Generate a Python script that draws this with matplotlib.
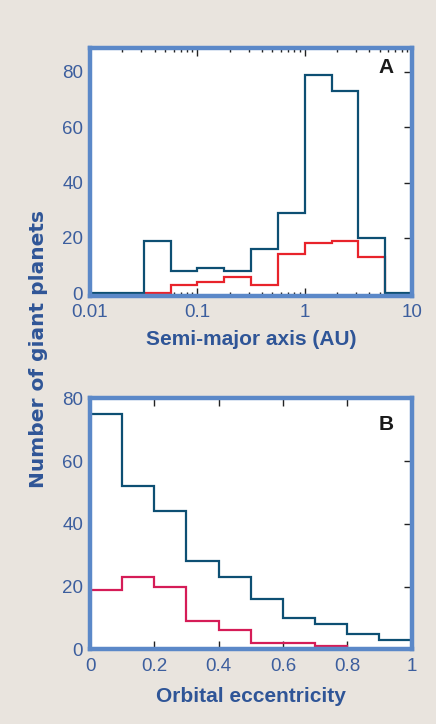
import numpy as np
import matplotlib
matplotlib.use("Agg")
import matplotlib.pyplot as plt
from matplotlib.ticker import LogLocator, FixedLocator, FixedFormatter, NullFormatter

# ---------------- data ----------------
# Panel A: semi-major axis histogram, bins of 0.25 dex from 0.01 to 10 AU
a_log_edges = np.arange(-2.0, 1.0001, 0.25)
a_all_counts = [0, 0, 19, 8, 9, 8, 16, 29, 79, 73, 20, 0]
# red subset starts at 10^-1.5 and ends at 10^0.75
a_sub_log_edges = np.arange(-1.5, 0.7501, 0.25)
a_sub_counts = [0, 3, 4, 6, 3, 14, 18, 19, 13]

# Panel B: eccentricity histogram, bins of 0.1
e_edges = np.arange(0.0, 1.0001, 0.1)
e_all_counts = [75, 52, 44, 28, 23, 16, 10, 8, 5, 3]
e_sub_counts = [19, 23, 20, 9, 6, 2, 2, 1, 0, 0]

a_xticks = [0.01, 0.1, 1, 10]
a_xticklabels = ["0.01", "0.1", "1", "10"]
y_ticks = [0, 20, 40, 60, 80]
e_xticks = [0, 0.2, 0.4, 0.6, 0.8, 1]
e_xticklabels = ["0", "0.2", "0.4", "0.6", "0.8", "1"]

# ---------------- style ----------------
BG = "#e9e4de"
SPINE = "#5b88c8"
BLUE = "#0d4f73"
RED_A = "#e8232b"
RED_B = "#d51c57"
LABEL = "#2f5597"
TICKLAB = "#3c5e9e"

plt.rcParams["font.family"] = ["Liberation Sans", "DejaVu Sans"]

fig = plt.figure(figsize=(4.36, 7.24), dpi=100, facecolor=BG)

W, H = 436.0, 724.0
def box(l, t, r, b):
    return [l / W, 1 - b / H, (r - l) / W, (b - t) / H]

axA = fig.add_axes(box(90, 47.7, 412, 296))
axB = fig.add_axes(box(90, 398.3, 411.5, 649.3))

def style(ax):
    ax.set_facecolor("white")
    for s in ax.spines.values():
        s.set_color(SPINE)
        s.set_linewidth(3.2)
        s.set_zorder(2.5)
    ax.tick_params(which="both", direction="in", left=False, right=True,
                   top=True, bottom=True, labelleft=True, labelright=False,
                   labeltop=False, labelbottom=True, colors="#222222",
                   labelcolor=TICKLAB, labelsize=13.5, width=1.0)
    ax.tick_params(which="major", length=6, pad=6)
    ax.tick_params(axis="y", pad=5)
    ax.tick_params(which="minor", length=3)

# Panel A
axA.stairs(a_sub_counts, 10 ** a_sub_log_edges, color=RED_A, lw=1.6, zorder=2)
axA.stairs(a_all_counts, 10 ** a_log_edges, color=BLUE, lw=1.6, zorder=2.1)
axA.set_xscale("log")
axA.set_xlim(0.01, 10)
axA.set_ylim(-1.0, 88.7)
style(axA)
axA.xaxis.set_major_locator(FixedLocator(a_xticks))
axA.xaxis.set_major_formatter(FixedFormatter(a_xticklabels))
axA.xaxis.set_minor_locator(LogLocator(base=10, subs=np.arange(2, 10), numticks=20))
axA.xaxis.set_minor_formatter(NullFormatter())
axA.set_yticks(y_ticks)
axA.set_xlabel("Semi-major axis (AU)", fontsize=15, fontweight="bold",
               color=LABEL, labelpad=6.5)
axA.text(0.92, 0.922, "A", transform=axA.transAxes, fontsize=15,
         fontweight="bold", color="#1a1a1a", ha="center", va="center")

# Panel B
axB.stairs(e_sub_counts, e_edges, color=RED_B, lw=1.6, zorder=2)
axB.stairs(e_all_counts, e_edges, color=BLUE, lw=1.6, zorder=2.1)
axB.set_xlim(0, 1)
axB.set_ylim(0, 80)
style(axB)
axB.set_xticks(e_xticks)
axB.set_xticklabels(e_xticklabels)
axB.set_yticks(y_ticks)
axB.set_xlabel("Orbital eccentricity", fontsize=15, fontweight="bold",
               color=LABEL, labelpad=9)
axB.text(0.92, 0.897, "B", transform=axB.transAxes, fontsize=15,
         fontweight="bold", color="#1a1a1a", ha="center", va="center")

fig.text(39 / W, 1 - 349 / H, "Number of giant planets", rotation=90,
         fontsize=14.5, fontweight="bold", color=LABEL, ha="center", va="center",
         family=["DejaVu Sans"])

fig.savefig("out.png", dpi=100, facecolor=BG)
